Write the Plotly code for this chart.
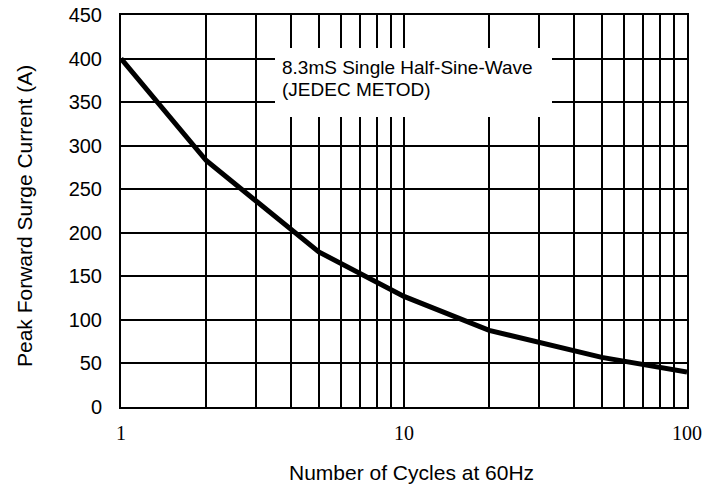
import plotly.graph_objects as go

cycles = [1, 2, 5, 10, 20, 50, 100]
current = [400, 283, 178, 127, 88, 57, 40]
x_major_ticks = [1, 10, 100]
x_minor_ticks = [2, 3, 4, 5, 6, 7, 8, 9, 20, 30, 40, 50, 60, 70, 80, 90]
y_ticks = [0, 50, 100, 150, 200, 250, 300, 350, 400, 450]
note_lines = ["8.3mS Single Half-Sine-Wave", "(JEDEC METOD)"]

W, H = 719, 490
L, R, T, B = 121, 32, 15, 83
PW, PH = W - L - R, H - T - B

def px(x):
    return (x - L) / PW

def py(y):
    return (H - B - y) / PH

fig = go.Figure()
fig.add_trace(go.Scatter(x=cycles, y=current, mode="lines",
                         line=dict(color="black", width=5), showlegend=False))

fig.update_layout(
    width=W, height=H,
    margin=dict(l=L, r=R, t=T, b=B, autoexpand=False),
    paper_bgcolor="white", plot_bgcolor="white",
    font=dict(family="Liberation Sans, Arial", size=20, color="black"),
)
fig.update_xaxes(
    type="log", range=[0, 2], automargin=False,
    tickvals=x_major_ticks, ticktext=["1", "10", "100"],
    tickfont=dict(family="Liberation Serif, Times New Roman", size=20, color="black"),
    showgrid=True, gridcolor="black", gridwidth=1.5,
    minor=dict(tickvals=x_minor_ticks, showgrid=True, gridcolor="black", gridwidth=1.5, ticks=""),
    showline=True, linecolor="black", linewidth=2, mirror=True,
    ticks="outside", ticklen=7, tickcolor="rgba(0,0,0,0)",
    zeroline=False,
)
fig.update_yaxes(
    range=[0, 450], tickvals=y_ticks, automargin=False,
    tickfont=dict(family="Liberation Sans, Arial", size=20, color="black"),
    showgrid=True, gridcolor="black", gridwidth=1.5,
    showline=True, linecolor="black", linewidth=2, mirror=True,
    ticks="outside", ticklen=13, tickcolor="rgba(0,0,0,0)",
    zeroline=False,
)

# axis titles
fig.add_annotation(xref="paper", yref="paper", x=px(411), y=py(473),
                   xanchor="center", yanchor="middle", showarrow=False,
                   text="Number of Cycles at 60Hz",
                   font=dict(family="Liberation Sans, Arial", size=21, color="black"))
fig.add_annotation(xref="paper", yref="paper", x=px(24), y=py(216),
                   xanchor="center", yanchor="middle", showarrow=False, textangle=-90,
                   text="Peak Forward Surge Current (A)",
                   font=dict(family="Liberation Sans, Arial", size=21, color="black"))

# note box
fig.add_shape(type="rect", xref="paper", yref="paper",
              x0=px(275), x1=px(552), y0=py(117), y1=py(48),
              fillcolor="white", line=dict(width=0), layer="above")
for line_text, yc in zip(note_lines, [67, 89]):
    fig.add_annotation(xref="paper", yref="paper", x=px(280), y=py(yc),
                       xanchor="left", yanchor="middle", align="left", showarrow=False,
                       text=line_text,
                       font=dict(family="Liberation Sans, Arial", size=19, color="black"))

fig.write_html("out.html")
